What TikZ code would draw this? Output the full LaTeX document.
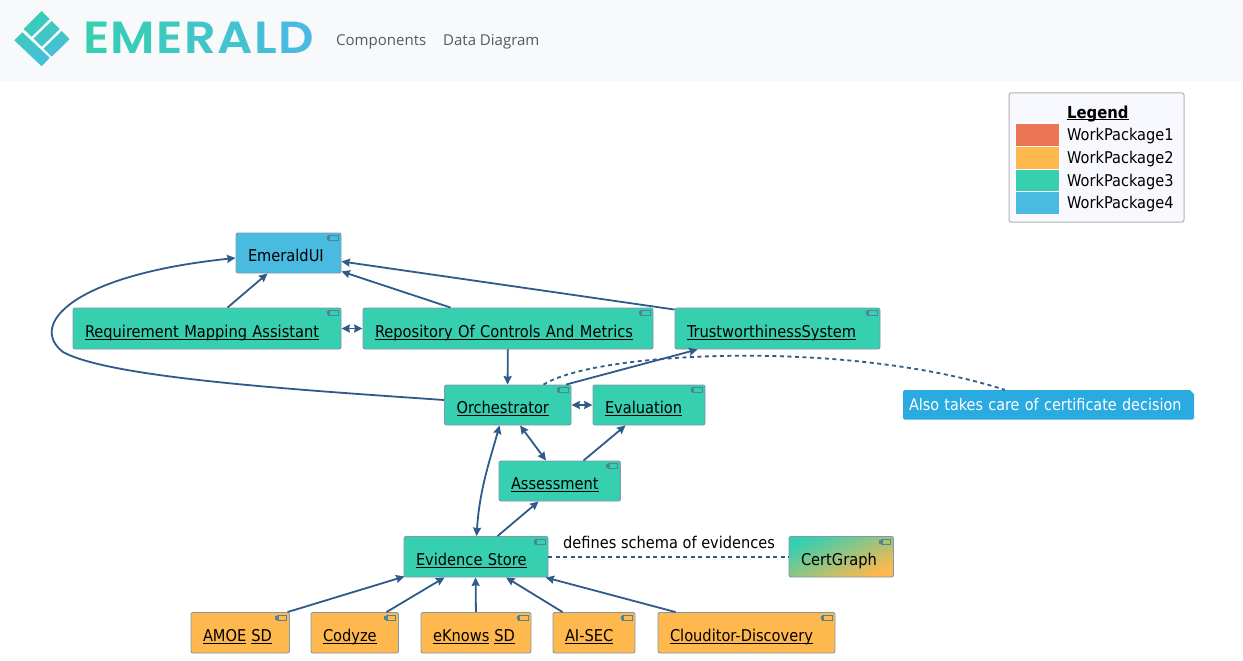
\documentclass[tikz,border=0pt]{standalone}
\usepackage{fontspec}
\usetikzlibrary{arrows.meta,calc}
\newfontfamily\boxfont{DejaVu Sans Condensed}[Scale=1]
\newfontfamily\navfont{Open Sans}
\newfontfamily\logofont{Poppins SemiBold}[FakeStretch=1.1]
\definecolor{wpa}{HTML}{EC7556}
\definecolor{wpb}{HTML}{FFB84D}
\definecolor{wpc}{HTML}{36CFB0}
\definecolor{wpd}{HTML}{4ABBE0}
\definecolor{linkc}{HTML}{2F5A8A}
\definecolor{bordc}{HTML}{7F99AB}
\definecolor{iconc}{HTML}{4F8599}
\definecolor{headc}{HTML}{F8F9FA}
\definecolor{notec}{HTML}{29ABE2}
\definecolor{navc}{HTML}{58595B}
\newcommand\ulk[1]{\setbox0\hbox{#1}\rlap{\rule[-2.4pt]{\wd0}{1pt}}\box0}
\tikzset{
 compbox/.style={draw=bordc,line width=0.9pt,rounded corners=2pt,inner xsep=12pt,inner ysep=0pt,align=left,font=\fontsize{16.25}{18}\boxfont,text=black},
 conn/.style={draw=linkc,line width=1.8pt},
 arr/.style={conn,-{Stealth[length=8.5pt,width=8pt,inset=1pt]}},
 biarr/.style={conn,{Stealth[length=8.5pt,width=8pt,inset=1pt]}-{Stealth[length=8.5pt,width=8pt,inset=1pt]}},
 dashconn/.style={conn,dash pattern=on 4pt off 3.5pt},
 txt/.style={inner sep=0pt,anchor=base west,font=\fontsize{16.2}{18}\boxfont,text=black},
 swatch/.style={inner sep=0pt,draw=white,line width=0.4pt},
}
\newcommand\comp[7]{%
 \pgfmathsetlengthmacro\tw{#4-#2-24}%
 \pgfmathsetlengthmacro\hh{#5-#3}%
 \node[compbox,#6,text width=\tw,minimum height=\hh] (#1) at ({(#2+#4)/2},{(#3+#5)/2}) {\leavevmode\smash{\raisebox{-8.7pt}{#7}}};
 \draw[line width=0.9pt,draw=iconc] ([shift={(-13,3)}]#1.north east) rectangle ([shift={(-3.5,8)}]#1.north east);
 \draw[line width=0.6pt,draw=iconc] ([shift={(-14.5,3.8)}]#1.north east) rectangle ([shift={(-12,5)}]#1.north east);
 \draw[line width=0.6pt,draw=iconc] ([shift={(-14.5,6)}]#1.north east) rectangle ([shift={(-12,7.2)}]#1.north east);
}
\begin{document}
\begin{tikzpicture}[x=1pt,y=-1pt]
\useasboundingbox (0,0) rectangle (1243,661);
\fill[white] (0,0) rectangle (1243,661);
\fill[headc] (0,0) rectangle (1243,81);
% logo
\begin{scope}
\clip (41.7,11)--(49.7,19)--(31.7,36.7)--(23.7,29)--cycle
 (51.7,21)--(59.7,29)--(41.7,46.7)--(33.5,38.5)--cycle
 (61.7,31)--(69.7,39)--(51.7,56.7)--(43.7,48.5)--cycle
 (22.3,32.3)--(49.7,57.7)--(41.7,66.3)--(14.3,40.3)--cycle;
\shade[top color=wpc,bottom color=wpd,shading angle=30] (12,9) rectangle (72,68);
\end{scope}
\node[inner sep=0pt,anchor=base west,font=\fontsize{45}{50}\logofont] (logotext) at (83,54) {\textcolor{wpc}{E}\kern1.4pt\textcolor{wpc!84!wpd}{M}\kern1.4pt\textcolor{wpc!67!wpd}{E}\kern1.4pt\textcolor{wpc!50!wpd}{R}\kern1.4pt\textcolor{wpc!33!wpd}{A}\kern1.4pt\textcolor{wpc!16!wpd}{L}\kern1.4pt\textcolor{wpd}{D}};
\node[inner sep=0pt,anchor=base west,text=navc,font=\fontsize{15}{18}\navfont] (navcomp) at (336,46) {Components};
\node[inner sep=0pt,anchor=base west,text=navc,font=\fontsize{15}{18}\navfont] (navdata) at (443,46) {Data Diagram};
% legend
\draw[draw=black!30,fill={rgb,255:red,248;green,249;blue,255},line width=1pt,rounded corners=2pt] (1009,93) rectangle (1184,222);
\node[txt,font=\fontsize{16.5}{18}\boxfont\bfseries] (legtitle) at (1067,118) {\ulk{Legend}};
\node[swatch,fill=wpa,minimum width=44pt,minimum height=22.7pt] (swa) at (1037.5,134.8) {};
\node[swatch,fill=wpb,minimum width=44pt,minimum height=22.7pt] (swb) at (1037.5,157.5) {};
\node[swatch,fill=wpc,minimum width=44pt,minimum height=22.7pt] (swc) at (1037.5,180.2) {};
\node[swatch,fill=wpd,minimum width=44pt,minimum height=22.7pt] (swd) at (1037.5,202.9) {};
\node[txt] (lega) at (1067,140.5) {WorkPackage1};
\node[txt] (legb) at (1067,163) {WorkPackage2};
\node[txt] (legc) at (1067,186) {WorkPackage3};
\node[txt] (legd) at (1067,208.5) {WorkPackage4};
% note
\node[fill=notec,text=white,inner sep=0pt,minimum width=291pt,minimum height=29.5pt,rounded corners=1.5pt,text width=279pt,align=left,font=\fontsize{16}{18}\boxfont] (note) at (1048.5,404.8) {\leavevmode\smash{\raisebox{-5.5pt}{Also takes care of certificate decision}}};
\fill[white] (1189.5,389.5)--(1194.5,389.5)--(1194.5,394.5)--cycle;
% components
\comp{ui}{236}{233}{341}{273}{fill=wpd}{EmeraldUI}
\comp{rma}{73}{308}{341}{349}{fill=wpc}{\ulk{Requirement Mapping Assistant}}
\comp{repo}{363}{308}{653}{349}{fill=wpc}{\ulk{Repository Of Controls And Metrics}}
\comp{ts}{675}{308}{880}{349}{fill=wpc}{\ulk{TrustworthinessSystem}}
\comp{orch}{444.5}{385}{571}{425}{fill=wpc}{\ulk{Orchestrator}}
\comp{eval}{593}{385}{705}{425}{fill=wpc}{\ulk{Evaluation}}
\comp{assess}{499}{461}{620.5}{501}{fill=wpc}{\ulk{Assessment}}
\comp{es}{404}{536.5}{548}{577}{fill=wpc}{\ulk{Evidence Store}}
\comp{cg}{789}{536.5}{893.5}{577}{top color=wpc,bottom color=wpb,shading angle=25}{CertGraph}
\comp{amoe}{191}{612.5}{289.5}{653}{fill=wpb}{\ulk{AMOE}\kern5pt\ulk{SD}}
\comp{cody}{311}{612.5}{398.5}{653}{fill=wpb}{\ulk{Codyze}}
\comp{ekn}{421}{612.5}{531}{653}{fill=wpb}{\ulk{eKnows}\kern5pt\ulk{SD}}
\comp{aisec}{553}{612.5}{635}{653}{fill=wpb}{\ulk{AI-SEC}}
\comp{cld}{658}{612.5}{835}{653}{fill=wpb}{\ulk{Clouditor-Discovery}}
% connectors
\draw[arr] ([xshift=155pt]rma.north west) -- ([xshift=32pt]ui.south west);
\draw[arr] ([xshift=88pt]repo.north west) -- ([yshift=2pt]ui.south east);
\draw[arr] ([yshift=-2pt]ts.north west) -- ([yshift=12pt]ui.south east);
\draw[biarr] (rma.east) -- (repo.west);
\draw[arr] ([xshift=145.3pt]repo.south west) -- ([xshift=63.5pt]orch.north west);
\draw[arr] ([yshift=5pt]orch.west) .. controls +(-144,-10) and (110,378) .. (63,352) .. controls (28,325) and (72,275) .. ([yshift=-5pt]ui.west);
\draw[arr] ([xshift=122pt]orch.north west) -- ([xshift=23pt]ts.south west);
\draw[dashconn] ([xshift=99.5pt]orch.north west) .. controls +(55,-34) and (850,340) .. ([xshift=102pt]note.north west);
\draw[biarr] (orch.east) -- (eval.west);
\draw[biarr] ([xshift=76pt]orch.south west) -- ([xshift=47.5pt]assess.north west);
\draw[arr] ([xshift=85pt]assess.north west) -- ([xshift=33pt]eval.south west);
\draw[arr] ([xshift=94pt]es.north west) -- ([xshift=40pt]assess.south west);
\draw[biarr] ([xshift=73pt]es.north west) .. controls +(3,-47) and (490,460) .. ([xshift=55.5pt]orch.south west);
\draw[dashconn] (es.east) -- (cg.west);
\node[txt] (schema) at (563,548) {defines schema of evidences};
\draw[arr] ([xshift=97pt]amoe.north west) -- ([xshift=1pt,yshift=1pt]es.south west);
\draw[arr] ([xshift=76pt]cody.north west) -- ([xshift=41pt]es.south west);
\draw[arr] ([xshift=55.4pt]ekn.north west) -- ([xshift=72pt]es.south west);
\draw[arr] ([xshift=10pt]aisec.north west) -- ([xshift=102.5pt]es.south west);
\draw[arr] ([xshift=18pt]cld.north west) -- ([xshift=142pt]es.south west);
\end{tikzpicture}
\end{document}
